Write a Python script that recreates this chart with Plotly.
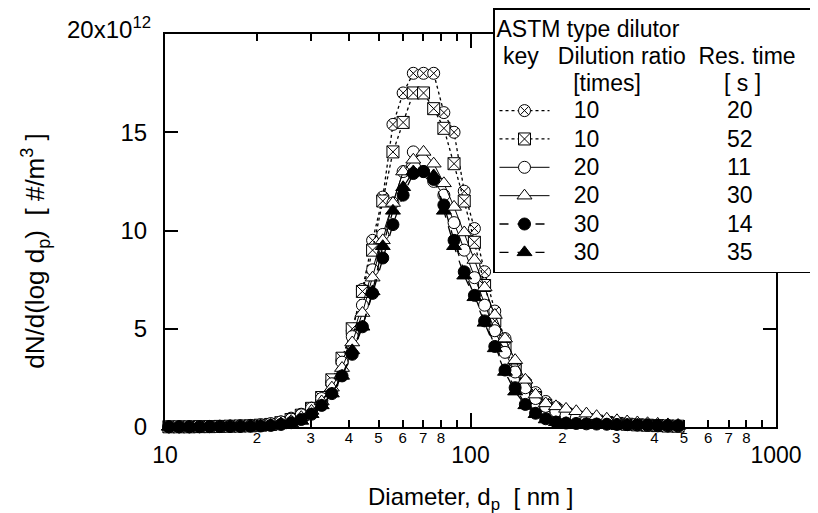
import plotly.graph_objects as go

# Particle diameter channels [nm]
diameter_nm = [10.30, 11.12, 12.01, 12.97, 14.00, 15.12, 16.33, 17.63, 19.04, 20.55,
               22.19, 23.96, 25.87, 27.93, 30.17, 32.57, 35.17, 37.98, 41.01, 44.28,
               47.81, 51.62, 55.74, 60.19, 64.99, 70.18, 75.77, 81.81, 88.34, 95.39,
               103.0, 111.2, 120.1, 129.7, 140.0, 151.2, 163.3, 176.3, 190.4, 205.5,
               221.9, 239.6, 258.7, 279.3, 301.6, 325.7, 351.7, 379.8, 410.0, 442.8,
               478.1]

# dN/d(log dp) in units of 1e12 #/m3
dr10_rt20 = [0.01, 0.01, 0.01, 0.02, 0.02, 0.03, 0.04, 0.05, 0.07, 0.1, 0.15, 0.25,
             0.45, 0.65, 0.96, 1.35, 2.3, 3.4, 4.9, 7.0, 9.5,
             11.7, 15.4, 17.0, 18.0, 18.0, 18.0, 16.0, 15.0, 12.0, 10.1,
             7.9, 5.9, 4.5, 3.1, 2.3, 1.75, 1.3, 1.0, 0.78, 0.6,
             0.46, 0.36, 0.28, 0.22, 0.17, 0.13, 0.1, 0.08, 0.06, 0.05]
dr10_rt52 = [0.01, 0.01, 0.01, 0.02, 0.02, 0.03, 0.04, 0.05, 0.06, 0.09, 0.13, 0.22,
             0.38, 0.6, 0.95, 1.5, 2.4, 3.5, 5.0, 6.9, 9.0,
             11.5, 14.0, 15.5, 17.0, 17.0, 16.2, 15.2, 13.4, 11.5, 9.4,
             7.2, 5.4, 4.0, 2.9, 2.1, 1.5, 1.1, 0.85, 0.65, 0.5,
             0.38, 0.3, 0.23, 0.18, 0.14, 0.11, 0.09, 0.07, 0.05, 0.04]
dr20_rt11 = [0.01, 0.01, 0.02, 0.02, 0.03, 0.04, 0.05, 0.06, 0.08, 0.11, 0.17, 0.26,
             0.4, 0.62, 0.95, 1.45, 2.2, 3.3, 4.6, 6.2, 8.0,
             9.8, 11.4, 13.0, 14.0, 13.0, 12.5, 11.8, 10.4, 9.0, 7.6,
             6.2, 4.9, 3.8, 2.8, 2.0, 1.45, 1.05, 0.8, 0.6, 0.45,
             0.35, 0.27, 0.21, 0.16, 0.12, 0.1, 0.08, 0.06, 0.05, 0.04]
dr20_rt30 = [0.01, 0.01, 0.01, 0.02, 0.02, 0.03, 0.03, 0.04, 0.05, 0.07, 0.11, 0.18,
             0.3, 0.5, 0.82, 1.3, 2.0, 3.0, 4.3, 5.8, 7.6,
             9.5, 11.4, 13.0, 13.6, 14.0, 13.4, 12.4, 11.2, 9.9, 8.5,
             7.1, 5.7, 4.5, 3.4, 2.4, 1.65, 1.2, 1.05, 0.92, 0.8,
             0.68, 0.55, 0.42, 0.34, 0.28, 0.23, 0.19, 0.16, 0.13, 0.1]
dr30_rt14 = [0.01, 0.01, 0.01, 0.01, 0.02, 0.02, 0.03, 0.03, 0.04, 0.05, 0.08, 0.13,
             0.22, 0.38, 0.65, 1.1, 1.7, 2.6, 3.7, 5.1, 6.8,
             8.6, 10.3, 11.8, 12.9, 13.0, 12.6, 11.3, 9.5, 7.9, 6.7,
             5.4, 4.1, 2.9, 2.0, 1.15, 0.7, 0.42, 0.25, 0.2, 0.18,
             0.16, 0.15, 0.14, 0.13, 0.12, 0.11, 0.1, 0.08, 0.07, 0.06]
dr30_rt35 = [0.01, 0.01, 0.01, 0.02, 0.02, 0.02, 0.03, 0.03, 0.04, 0.05, 0.07, 0.1,
             0.18, 0.31, 0.65, 1.1, 1.7, 2.6, 3.9, 5.1, 6.9,
             9.2, 11.0, 12.2, 13.0, 13.0, 12.8, 11.0, 9.2, 7.7, 6.6,
             5.3, 4.0, 2.8, 1.8, 1.1, 0.65, 0.38, 0.24, 0.19, 0.17,
             0.15, 0.14, 0.13, 0.12, 0.11, 0.1, 0.09, 0.08, 0.06, 0.05]

y_tick_vals = [0, 5, 10, 15]
y_tick_text = ["0", "5", "10", "15"]
y_top_label = "20x10<sup>12</sup>"
x_major_vals = [10, 100, 1000]
x_major_text = ["10", "100", "1000"]
x_minor_vals = [20, 30, 40, 50, 60, 70, 80, 200, 300, 400, 500, 600, 700, 800]
x_minor_text = ["2", "3", "4", "5", "6", "7", "8", "2", "3", "4", "5", "6", "7", "8"]
x_unlabeled_vals = [90, 900]

NB = "\u00a0"
FONT = "Liberation Sans, Arial, sans-serif"


def big(s):
    return '<span style="font-size:23px">' + s + "</span>"


series = [
    (dr10_rt20, "10", "20", "circle-x", "white", "dot", 12, "x"),
    (dr10_rt52, "10", "52", "square-x", "white", "dot", 12, "x"),
    (dr20_rt11, "20", "11", "circle", "white", "solid", 12, "x"),
    (dr20_rt30, "20", "30", "triangle-up", "white", "solid", 13, "x2"),
    (dr30_rt14, "30", "14", "circle", "black", "dash", 12, "x2"),
    (dr30_rt35, "30", "35", "triangle-up", "black", "dash", 13, "x2"),
]

fig = go.Figure()
for vals, ratio, rt, sym, fill, dash, size, xa in series:
    fig.add_trace(go.Scatter(
        x=diameter_nm, y=vals, mode="lines+markers", xaxis=xa, yaxis="y",
        name=big(NB * 3 + ratio + NB * 20 + rt),
        line=dict(color="black", width=1.3 if dash != "solid" else 1, dash=dash),
        marker=dict(symbol=sym, size=size, color=fill, line=dict(color="black", width=1)),
        cliponaxis=False,
    ))

legend_title = (big("ASTM type dilutor") + "<br>"
                + big(NB + "key" + NB * 3 + "Dilution ratio" + NB * 2 + "Res. time" + NB * 2) + "<br>"
                + big(NB * 12 + "[times]" + NB * 13 + "[ s ]"))

fig.update_layout(
    width=818, height=513,
    margin=dict(l=157, r=50, t=26, b=94, autoexpand=False),
    paper_bgcolor="white", plot_bgcolor="white",
    font=dict(family=FONT, color="black", size=23),
    showlegend=True,
    legend=dict(
        x=(485 - 157) / 611, y=1 + 26 / 393.5, xanchor="left", yanchor="top",
        bgcolor="white", bordercolor="black", borderwidth=1.5,
        font=dict(family=FONT, size=19.5, color="black"),
        title=dict(text=legend_title, font=dict(family=FONT, size=21, color="black")),
        itemwidth=50, tracegroupgap=0, maxheight=450,
    ),
    xaxis=dict(
        type="log", range=[1, 3], tickmode="array", tickvals=x_major_vals, ticktext=x_major_text,
        ticks="inside", ticklen=14, tickwidth=2, tickcolor="black",
        showline=True, linecolor="black", linewidth=2, mirror="ticks",
        showgrid=False, zeroline=False, ticklabelstandoff=6,
        tickfont=dict(family=FONT, size=23, color="black"),
    ),
    xaxis2=dict(
        type="log", range=[1, 3], overlaying="x", anchor="y", side="bottom",
        tickmode="array", tickvals=x_minor_vals, ticktext=x_minor_text,
        ticks="inside", ticklen=7, tickwidth=1.5, tickcolor="black",
        minor=dict(tickmode="array", tickvals=x_unlabeled_vals, ticks="inside", ticklen=7,
                   tickwidth=1.5, tickcolor="black", showgrid=False),
        showline=False, mirror="ticks", showgrid=False, zeroline=False,
        tickfont=dict(family=FONT, size=15, color="black"),
    ),
    yaxis=dict(
        range=[0, 20], tickmode="array", tickvals=y_tick_vals, ticktext=y_tick_text,
        ticks="inside", ticklen=13, tickwidth=2, tickcolor="black",
        showline=True, linecolor="black", linewidth=2, mirror="ticks",
        showgrid=False, zeroline=False, ticklabelstandoff=11,
        tickfont=dict(family=FONT, size=24, color="black"),
    ),
    annotations=[
        dict(text=y_top_label, xref="paper", yref="paper",
             x=(145 - 157) / 611, y=(419.5 - 20) / 393.5, xanchor="right", yanchor="middle",
             showarrow=False, font=dict(family=FONT, size=24, color="black")),
        dict(text="Diameter, d<sub>p</sub>" + NB * 2 + "[ nm ]", xref="paper", yref="paper",
             x=0.5, y=(419.5 - 491) / 393.5, xanchor="center", yanchor="middle", showarrow=False,
             font=dict(family=FONT, size=24, color="black")),
        dict(text="dN/d(log d<sub>p</sub>)" + NB * 2 + "[ #/m<sup>3</sup> ]", xref="paper", yref="paper",
             x=(27 - 157) / 611, y=(419.5 - 243) / 393.5, xanchor="center", yanchor="middle",
             textangle=-90, showarrow=False,
             font=dict(family=FONT, size=26, color="black")),
    ],
)

fig.write_html("out.html")
